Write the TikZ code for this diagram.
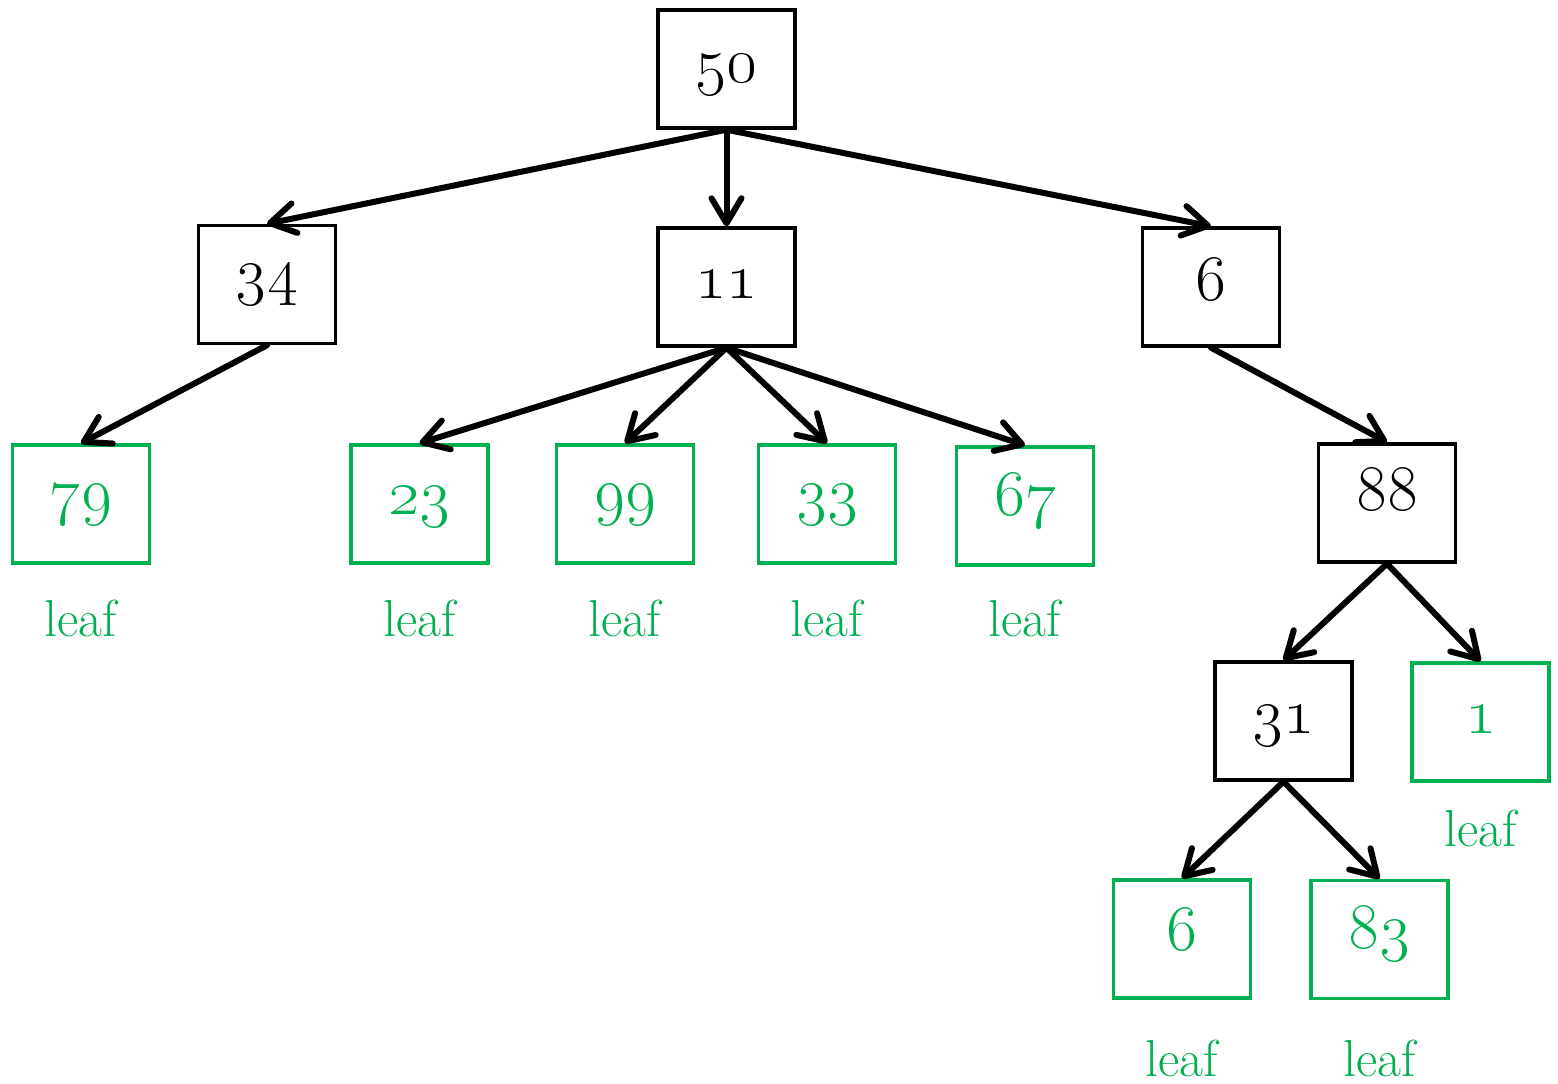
\RequirePackage{fix-cm}
\documentclass[tikz,border=0pt]{standalone}
\usetikzlibrary{arrows.meta}
\definecolor{leafgreen}{HTML}{00B050}
\begin{document}
\begin{tikzpicture}[x=1pt,y=-1pt,
  box/.style={draw=black,line width=3.4pt,minimum width=137pt,minimum height=118pt,inner sep=0pt,anchor=center},
  leafbox/.style={box,draw=leafgreen},
  num/.style={anchor=base,inner sep=0pt,font=\fontsize{66}{66}\selectfont},
  leafnum/.style={num,text=leafgreen},
  leaflbl/.style={anchor=base,inner sep=0pt,text=leafgreen,font=\fontsize{52}{52}\selectfont},
  arr/.style={line width=6pt,line cap=round,-{Straight Barb[length=25pt,width=30pt,round]}}]
\useasboundingbox (0,0) rectangle (1558,1084);
% boxes
\node[box] (n50) at (726.5,69) {};
\node[box] (n34) at (267,284.5) {};
\node[box] (n11) at (726.5,287) {};
\node[box] (n6) at (1211,287) {};
\node[leafbox] (n79) at (81,504) {};
\node[leafbox] (n23) at (419.5,504) {};
\node[leafbox] (n99) at (625,504) {};
\node[leafbox] (n33) at (827,504) {};
\node[leafbox] (n67) at (1025,506) {};
\node[box] (n88) at (1387,503) {};
\node[box] (n31) at (1283.5,721) {};
\node[leafbox] (n1) at (1480.5,722) {};
\node[leafbox] (n6b) at (1182,939) {};
\node[leafbox] (n83) at (1379.5,939.5) {};
% numbers
\node[num] (t50) at (726.5,82) {\oldstylenums{50}};
\node[num] (t34) at (267,292) {\oldstylenums{34}};
\node[num] (t11) at (726.5,298) {\oldstylenums{11}};
\node[num] (t6) at (1211,300) {\oldstylenums{6}};
\node[leafnum] (t79) at (81,512) {\oldstylenums{79}};
\node[leafnum] (t23) at (419.5,514) {\oldstylenums{23}};
\node[leafnum] (t99) at (625,512) {\oldstylenums{99}};
\node[leafnum] (t33) at (827,512) {\oldstylenums{33}};
\node[leafnum] (t67) at (1025,515) {\oldstylenums{67}};
\node[num] (t88) at (1387,510) {\oldstylenums{88}};
\node[num] (t31) at (1283.5,733) {\oldstylenums{31}};
\node[leafnum] (t1) at (1480.5,733) {\oldstylenums{1}};
\node[leafnum] (t6b) at (1182,950) {\oldstylenums{6}};
\node[leafnum] (t83) at (1379.5,948) {\oldstylenums{83}};
% leaf labels
\node[leaflbl] (l79) at (81,636) {leaf};
\node[leaflbl] (l23) at (419.5,636) {leaf};
\node[leaflbl] (l99) at (625,636) {leaf};
\node[leaflbl] (l33) at (827,636) {leaf};
\node[leaflbl] (l67) at (1025,636) {leaf};
\node[leaflbl] (l1) at (1480.5,846) {leaf};
\node[leaflbl] (l6b) at (1182,1076) {leaf};
\node[leaflbl] (l83) at (1379.5,1076) {leaf};
% connectors
\draw[arr] (n50.south) -- (n34.north);
\draw[arr] (n50.south) -- (n11.north);
\draw[arr] (n50.south) -- (n6.north);
\draw[arr] (n34.south) -- (n79.north);
\draw[arr] (n11.south) -- (n23.north);
\draw[arr] (n11.south) -- (n99.north);
\draw[arr] (n11.south) -- (n33.north);
\draw[arr] (n11.south) -- (n67.north);
\draw[arr] (n6.south) -- (n88.north);
\draw[arr] (n88.south) -- (n31.north);
\draw[arr] (n88.south) -- (n1.north);
\draw[arr] (n31.south) -- (n6b.north);
\draw[arr] (n31.south) -- (n83.north);
\end{tikzpicture}
\end{document}
